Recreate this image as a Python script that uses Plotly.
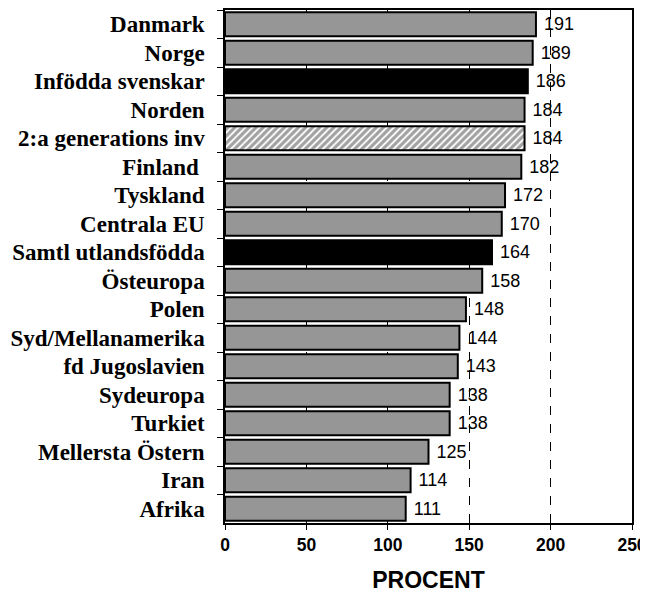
import plotly.graph_objects as go

categories = ["Danmark", "Norge", "Infödda svenskar", "Norden", "2:a generations inv",
              "Finland ", "Tyskland", "Centrala EU", "Samtl utlandsfödda", "Östeuropa",
              "Polen", "Syd/Mellanamerika", "fd Jugoslavien", "Sydeuropa", "Turkiet",
              "Mellersta Östern", "Iran", "Afrika"]
values = [191, 189, 186, 184, 184, 182, 172, 170, 164, 158, 148, 144, 143, 138, 138, 125, 114, 111]
tick_vals = [0, 50, 100, 150, 200, 250]

gray = "#969696"
colors = []
shapes = []
for c in categories:
    if c in ("Infödda svenskar", "Samtl utlandsfödda"):
        colors.append("black"); shapes.append("")
    elif c == "2:a generations inv":
        colors.append("white"); shapes.append("/")
    else:
        colors.append(gray); shapes.append("")

fig = go.Figure(go.Bar(
    x=values, y=categories, orientation="h",
    marker=dict(color=colors, line=dict(color="black", width=2),
                pattern=dict(shape=shapes, fgcolor="black", bgcolor="white", size=5, solidity=0.65)),
    text=[" " + str(v) for v in values], textposition="outside", cliponaxis=False,
    textfont=dict(family="Liberation Sans, Arial", size=18, color="black"),
))

# page body has an 8px default margin, so the figure is sized/offset accordingly
fig.update_layout(
    width=640, height=588, margin=dict(l=217, r=16, t=2, b=73),
    paper_bgcolor="white", plot_bgcolor="white", bargap=0.16, showlegend=False,
)
fig.update_xaxes(range=[0, 250], tickvals=tick_vals, ticks="outside", ticklen=5, tickcolor="black",
                 showgrid=True, gridcolor="black", griddash="dash", gridwidth=1, automargin=False,
                 ticklabeloverflow="allow",
                 showline=True, linecolor="black", linewidth=1.5, mirror=True, zeroline=False,
                 tickfont=dict(family="Liberation Sans, Arial", size=17.5, color="black", weight="bold"),
                 title=dict(text="PROCENT", font=dict(family="Liberation Sans, Arial", size=23, color="black", weight="bold"), standoff=18))
fig.update_yaxes(autorange="reversed", ticks="outside", ticklen=6, tickcolor="black", tickson="boundaries",
                 showline=True, linecolor="black", linewidth=1.5, mirror=True, showgrid=False, automargin=False,
                 ticklabelstandoff=14,
                 tickfont=dict(family="Liberation Serif, Times New Roman", size=23, color="black", weight="bold"))
fig.write_html("out.html")
